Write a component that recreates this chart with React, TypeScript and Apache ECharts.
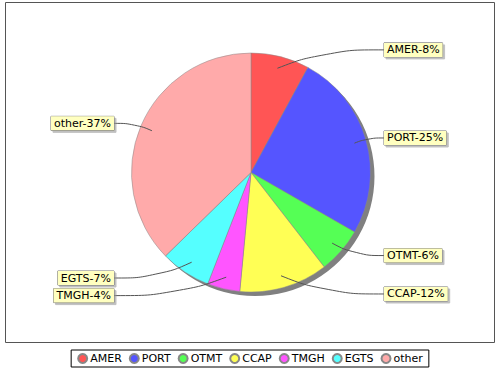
import React, { useEffect, useRef } from "react";
import * as echarts from "echarts";

const categories = ["AMER", "PORT", "OTMT", "CCAP", "TMGH", "EGTS", "other"];
const values = [7.9, 25.4, 6.2, 12.0, 4.4, 6.8, 37.3];
const colors = ["#FF5555", "#5555FF", "#55FF55", "#FFFF55", "#FF55FF", "#55FFFF", "#FFAAAA"];

const CX = 251;
const CY = 172.5;
const R = 119.5;
const RIGHT_COL = 384;
const LEFT_COL = 114;

export default function App() {
  const ref = useRef<HTMLDivElement>(null);
  useEffect(() => {
    if (!ref.current) return;
    const chart = echarts.init(ref.current, undefined, { renderer: "svg" });
    const total = values.reduce((a, b) => a + b, 0);
    const data = categories.map((name, i) => ({
      name,
      value: values[i],
      itemStyle: { color: colors[i] },
    }));
    const overlayData = categories.map((name, i) => ({ name, value: values[i] }));
    chart.setOption({
      animation: false,
      backgroundColor: "#ffffff",
      textStyle: { fontFamily: "DejaVu Sans" },
      graphic: [
        {
          type: "rect",
          z: -10,
          shape: { x: 5.5, y: 2.5, width: 489, height: 340 },
          style: { fill: "#ffffff", stroke: "#555555", lineWidth: 1 },
        },
      ],
      legend: {
        data: categories,
        bottom: 3,
        left: "center",
        icon: "circle",
        itemWidth: 9,
        itemHeight: 9,
        itemGap: 7,
        padding: [3, 6],
        borderColor: "#000000",
        borderWidth: 1,
        textStyle: { fontSize: 11, color: "#000", fontFamily: "DejaVu Sans", padding: [0, 0, 0, -2] },
      },
      series: [
        {
          type: "pie",
          silent: true,
          center: [CX + 4, CY + 4],
          radius: R,
          z: 1,
          label: { show: false },
          labelLine: { show: false },
          itemStyle: { color: "#808080" },
          data: [{ name: "shadow", value: total }],
        },
        {
          type: "pie",
          center: [CX, CY],
          radius: R,
          startAngle: 90,
          clockwise: true,
          z: 2,
          data,
          itemStyle: { borderColor: "#888888", borderWidth: 0.5 },
          label: { show: false },
          labelLine: { show: false },
          emphasis: { disabled: true },
        },
        {
          type: "pie",
          center: [CX, CY],
          radius: R,
          startAngle: 90,
          clockwise: true,
          z: 3,
          silent: true,
          legendHoverLink: false,
          data: overlayData,
          itemStyle: { color: "rgba(0,0,0,0)", borderWidth: 0 },
          label: {
            show: true,
            position: "outside",
            distanceToLabelLine: 5,
            formatter: (p: any) => `${p.name}-${Math.round(p.percent)}%`,
            fontSize: 11,
            fontFamily: "DejaVu Sans",
            color: "#000",
            backgroundColor: "#FFFFC0",
            borderColor: "#777777",
            borderWidth: 0.5,
            padding: [2, 3, 1, 3],
            shadowColor: "rgba(151,151,151,0.6)",
            shadowOffsetX: 2,
            shadowOffsetY: 2,
            shadowBlur: 0,
          },
          labelLine: {
            show: true,
            length: 7,
            length2: 5,
            smooth: 0.5,
            lineStyle: { color: "#555555", width: 1 },
          },
          emphasis: { disabled: true },
          labelLayout: (params: any) => {
            const pts = params.labelLinePoints;
            const rect = params.labelRect;
            if (!pts || pts.length < 3 || !rect) return {};
            const isLeft = rect.x + rect.width / 2 < CX;
            const p0 = pts[0];
            const q = [CX + (p0[0] - CX) * 0.9, CY + (p0[1] - CY) * 0.9];
            const ly = rect.y + rect.height / 2;
            const lx = isLeft ? LEFT_COL : RIGHT_COL;
            const p1 = [q[0] + (lx - q[0]) * 0.45, ly];
            return {
              x: lx,
              labelLinePoints: [q, p1, [lx, ly]],
            };
          },
        },
      ],
    });
    return () => chart.dispose();
  }, []);
  return (
    <div
      ref={ref}
      style={{ position: "absolute", left: 0, top: 0, width: 500, height: 370 }}
    />
  );
}
